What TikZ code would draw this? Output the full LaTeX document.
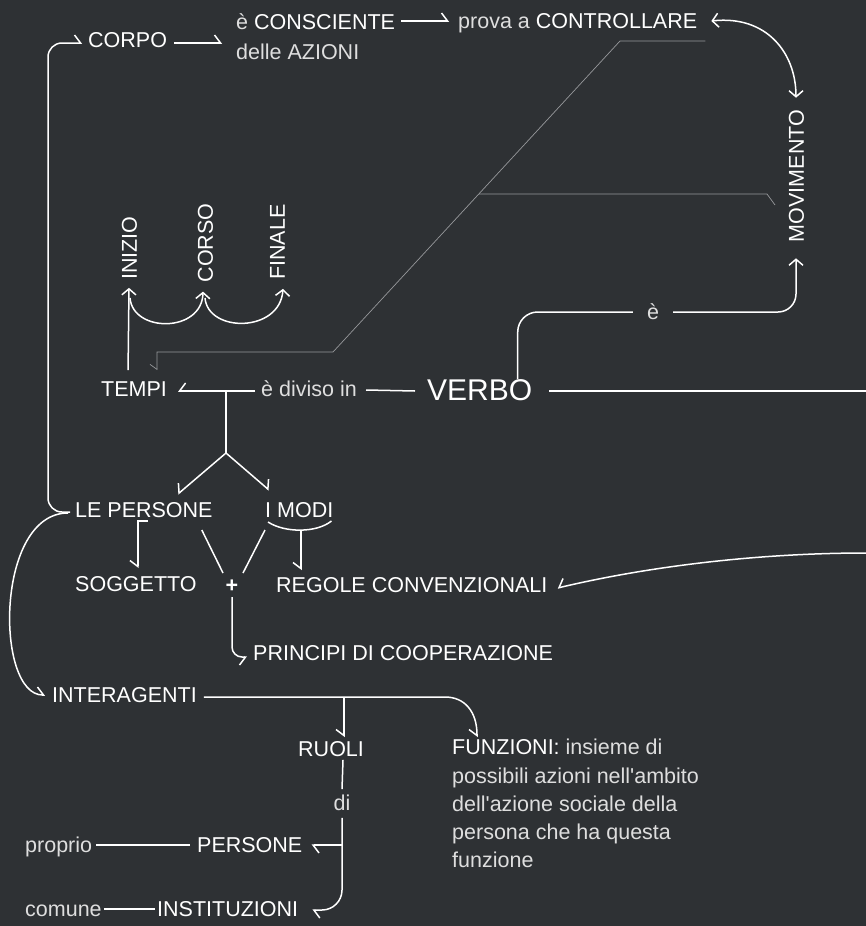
\documentclass[tikz,border=0pt]{standalone}
\usepackage{fontspec}
\setmainfont{Liberation Sans}
\usetikzlibrary{arrows.meta}
\definecolor{bg}{RGB}{46,49,52}
\definecolor{lite}{RGB}{222,222,222}
\definecolor{thin}{RGB}{150,152,155}
\begin{document}
\begin{tikzpicture}[x=1pt,y=-1pt,
  font=\fontsize{21.5}{26}\selectfont,
  t/.style={inner sep=0pt,text height=15.5pt,text depth=0pt,text=white,anchor=west},
  lt/.style={t,text=lite},
  conn/.style={draw=white,line width=1.5pt},
  thinl/.style={draw=thin,line width=0.7pt},
  har/.style={-{Straight Barb[harpoon,length=6pt,width=16pt]}},
  harS/.style={-{Straight Barb[harpoon,swap,length=6pt,width=16pt]}},
  fa/.style={-{Straight Barb[length=6pt,width=14pt]}},
  rot/.style={t,rotate=90,anchor=center}]
\fill[bg] (0,0) rectangle (866,926);
\useasboundingbox (0,0) rectangle (866,926);

% nodes
\node[t] (corpo) at (88,40) {CORPO};
\node[lt] (cons1) at (236,22) {è \textcolor{white}{CONSCIENTE}};
\node[lt] (cons2) at (236,52) {delle AZIONI};
\node[lt] (prova) at (458,21) {prova a \textcolor{white}{CONTROLLARE}};
\node[rot] (mov) at (796,176) {MOVIMENTO};
\node[rot] (inizio) at (129,248) {INIZIO};
\node[rot] (corso) at (205,243) {CORSO};
\node[rot] (finale) at (277,242) {FINALE};
\node[lt,anchor=center] (e1) at (653,312) {è};
\node[t,font=\fontsize{30}{36}\selectfont,text height=21.5pt] (verbo) at (427,390) {VERBO};
\node[lt] (div) at (261,389) {è diviso in};
\node[t] (tempi) at (101,389) {TEMPI};
\node[t] (lepers) at (75,510) {LE PERSONE};
\node[t] (imodi) at (265,510) {I MODI};
\node[t] (sogg) at (75,584) {SOGGETTO};
\node[t,anchor=center,font=\bfseries\fontsize{21.5}{26}\selectfont] (plus) at (232,585) {+};
\node[t] (regole) at (276,585) {REGOLE CONVENZIONALI};
\node[t] (principi) at (253,653) {PRINCIPI DI COOPERAZIONE};
\node[t] (inter) at (52,695) {INTERAGENTI};
\node[t] (ruoli) at (298,749) {RUOLI};
\node[lt,anchor=center] (di) at (342,803) {di};
\node[t] (persone) at (197,845) {PERSONE};
\node[lt] (proprio) at (25,845) {proprio};
\node[t] (instit) at (157,909) {INSTITUZIONI};
\node[lt] (comune) at (25,909) {comune};
\node[inner sep=0pt,anchor=north west,align=left,text=lite,
  font=\fontsize{21.5}{28.3}\selectfont] (funz) at (452,739)
  {\textcolor{white}{FUNZIONI:} insieme di\\possibili azioni nell\textquotesingle ambito\\dell\textquotesingle azione sociale della\\persona che ha questa\\funzione};

\coordinate (edgeA) at (866,391);
\coordinate (edgeB) at (866,553);
\coordinate (split) at (226,453);
\coordinate (lineT) at (226,391);
\coordinate (graybr) at (479,194);

% connectors
\draw[conn,har] ([shift={(7pt,-3pt)}]corpo.east) -- ([shift={(-14pt,9pt)}]cons2.west);
\draw[conn,har] ([xshift=6pt,yshift=1pt]cons1.east) -- ([xshift=-9pt]prova.west);
\draw[conn,{Straight Barb[length=6pt,width=14pt]}-{Straight Barb[length=6pt,width=14pt]}]
  ([xshift=14pt]prova.east) .. controls +(55,-6) and +(0,-45) .. ([yshift=12pt]mov.east);
\draw[conn,rounded corners=20pt] ([xshift=38pt]verbo.north) |- ([xshift=-14pt]e1.west);
\draw[conn,rounded corners=18pt,fa] ([xshift=14pt]e1.east) -| ([yshift=-16pt]mov.west);
\draw[conn] ([xshift=9pt,yshift=-1pt]div.east) -- ([xshift=-12pt,yshift=-1pt]verbo.west);
\draw[conn] ([xshift=17pt,yshift=-1pt]verbo.east) -- (edgeA);
\draw[conn,harS] ([xshift=-6pt,yshift=-2pt]div.west) -- ([xshift=11pt,yshift=-2pt]tempi.east);
\draw[conn] (lineT) -- (split);
\draw[conn,harS] (split) -- ([shift={(34pt,8pt)}]lepers.north);
\draw[conn,har] (split) -- ([shift={(4pt,12pt)}]imodi.north west);
% thin gray
\draw[thinl,-{Straight Barb[harpoon,swap,length=5pt,width=14pt]}] ([shift={(8pt,-20pt)}]prova.east) -- (620,41) -- (333,352) -- (157,352) -- ([shift={(56pt,11pt)}]tempi.north west);
\draw[thinl] (graybr) -- (767,194) -- (775,205);
% tempi
\draw[conn,fa] ([shift={(-6pt,11pt)}]tempi.north) -- ([yshift=-8pt]inizio.west);
\draw[conn,fa] (130,298) .. controls (133,333) and (202,333) .. ([xshift=-2pt,yshift=-9pt]corso.west);
\draw[conn,fa] (205,298) .. controls (208,333) and (280,333) .. ([xshift=6pt,yshift=-9pt]finale.west);
% left long
\draw[conn,rounded corners=14pt,har] ([xshift=-5pt,yshift=-2pt]lepers.west) -| ([shift={(-40pt,-3pt)}]corpo.west) -- ([shift={(-6pt,-3pt)}]corpo.west);
\draw[conn,har] ([xshift=-7pt,yshift=-3pt]lepers.west) .. controls +(-73,0) and +(-50,0) .. ([xshift=-7pt]inter.west);
% persone / modi
\draw[conn,harS] ([shift={(4pt,-3pt)}]lepers.south) -| ([shift={(2pt,8pt)}]sogg.north);
\draw[conn] ([shift={(-11pt,-20pt)}]lepers.east) -- ([shift={(-9pt,12pt)}]plus.center);
\draw[conn] ([shift={(0pt,-20pt)}]imodi.west) -- ([shift={(11pt,12pt)}]plus.center);
\draw[conn] ([shift={(3pt,-12pt)}]imodi.west) .. controls +(17,11) and +(-15,12) .. ([shift={(-2pt,-11pt)}]imodi.east);
\draw[conn,harS] ([shift={(36pt,-20pt)}]imodi.west) -- ([shift={(36pt,-60pt)}]imodi.west);
\draw[conn,rounded corners=10pt,harS] ([yshift=-12pt]plus.center) |- ([xshift=-6pt,yshift=-4pt]principi.west);
\draw[conn,harS] (edgeB) .. controls (760,553) and (650,566) .. ([xshift=10pt,yshift=-3pt]regole.east);
% interagenti
\draw[conn,harS] ([xshift=7pt,yshift=-2pt]inter.east) -- (445,697) .. controls (465,697) and (477,712) .. ([shift={(25pt,2pt)}]funz.north west);
\draw[conn,harS] (344,697) -- ([shift={(46pt,4pt)}]ruoli.north west);
\draw[conn] ([shift={(45pt,-3pt)}]ruoli.south west) -- ([yshift=6pt]di.north);
\draw[conn,rounded corners=20pt,har] ([yshift=-7pt]di.south) |- ([xshift=14pt,yshift=-1pt]instit.east);
\draw[conn,har] (343,845) -- ([xshift=9pt]persone.east);
\draw[conn,line width=1.2pt] ([xshift=4pt]proprio.east) -- ([xshift=-7pt]persone.west);
\draw[conn,line width=1.2pt] ([xshift=2pt]comune.east) -- ([xshift=-2pt]instit.west);
\end{tikzpicture}
\end{document}
